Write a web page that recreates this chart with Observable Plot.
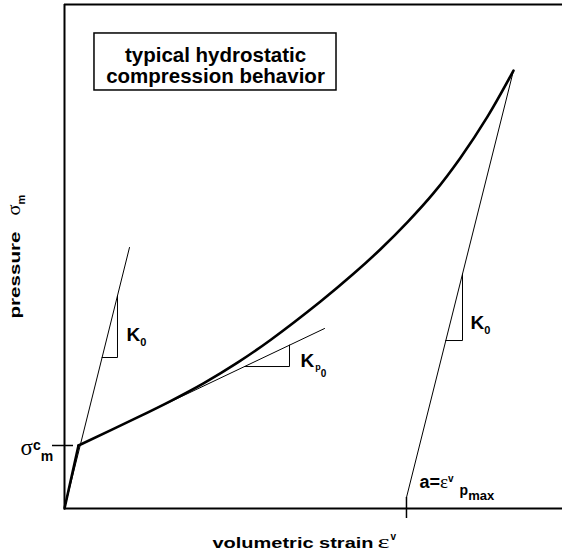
<!DOCTYPE html>
<html>
<head>
<meta charset="utf-8">
<script src="https://cdn.jsdelivr.net/npm/d3@7"></script>
<script src="https://cdn.jsdelivr.net/npm/@observablehq/plot@0.6"></script>
<style>
  html, body { margin: 0; padding: 0; background: #fff; }
  #chart svg { display: block; }
</style>
</head>
<body>
<div id="chart"></div>
<script>
// ---- data (strain x 0..100, pressure y 0..100, arbitrary units) ----
const curveX = [0, 2.81, 14.66, 21.29, 27.91, 34.74, 41.37, 51.41, 58.03, 63.45, 68.88, 74.10, 79.52, 84.94, 90.16];
const curveY = [0, 12.5, 18.07, 21.32, 24.83, 28.93, 33.44, 41.07, 46.56, 51.44, 56.82, 62.56, 69.61, 77.74, 86.88];

const loadK0X = [0, 13.05];
const loadK0Y = [0, 51.79];
const tangentX = [2.81, 52.21];
const tangentY = [12.5, 35.71];
const unloadX = [90.16, 68.67];
const unloadY = [86.9, 2.18];

const triLeftX = [7.55, 10.64, 10.64];
const triLeftY = [29.96, 29.96, 42.2];
const triTanX = [36.16, 45.18, 45.18];
const triTanY = [28.17, 28.17, 32.41];
const triRightX = [76.57, 79.92, 79.92];
const triRightY = [33.33, 33.33, 46.53];

const sigmaCm = 12.5;        // yield pressure σ^c_m
const aStrain = 68.67;       // a = ε^v_pmax

const titleLines = ["typical hydrostatic", "compression behavior"];

const zip = (xs, ys) => xs.map((x, i) => ({x, y: ys[i]}));

// rich labels: segments {t, f:"b"|"g", s:size, b:baseline shift, dx, len}
const richLabels = [
  {x: -8.84, y: 10.71, rotate: 0, segs: [
    {t: "σ", f: "g", s: 23}, {t: "c", f: "b", s: 14, b: -4.5}, {t: "m", f: "b", s: 14, b: 6}]},
  {x: 12.45, y: 33.33, rotate: 0, segs: [
    {t: "K", f: "b", s: 19}, {t: "0", f: "b", s: 11, b: 5}]},
  {x: 47.39, y: 27.98, rotate: 0, segs: [
    {t: "K", f: "b", s: 19}, {t: "p", f: "b", s: 9, b: 3, dx: 1}, {t: "0", f: "b", s: 10, b: 10}]},
  {x: 81.53, y: 35.71, rotate: 0, segs: [
    {t: "K", f: "b", s: 19}, {t: "0", f: "b", s: 11, b: 5}]},
  {x: 71.29, y: 3.97, rotate: 0, segs: [
    {t: "a=", f: "b", s: 18}, {t: "ε", f: "g", s: 19}, {t: "v", f: "b", s: 10, b: -6},
    {t: "p", f: "b", s: 14, b: 7, dx: 6}, {t: "max", f: "b", s: 13, b: 12}]},
  {x: 29.72, y: -7.74, rotate: 0, segs: [
    {t: "volumetric strain", f: "b", s: 15, len: 161}, {t: "ε", f: "g", s: 18, dx: 4, len: 12}, {t: "v", f: "b", s: 10, b: -8, dx: 1}]},
  {x: -8.84, y: 37.7, rotate: -90, segs: [
    {t: "pressure", f: "b", s: 15, len: 87}, {t: "σ", f: "g", s: 18, dx: 16, len: 11}, {t: "m", f: "b", s: 11, b: 5}]}
];
richLabels.forEach(d => d.plain = d.segs.map(s => s.t).join(""));

const titleData = [{x: 30.32, y: 84.33, text: titleLines.join("\n")}];

const thin = {stroke: "black", strokeWidth: 1};

const chart = Plot.plot({
  width: 562,
  height: 557,
  marginLeft: 64,
  marginRight: 0,
  marginTop: 4,
  marginBottom: 49,
  x: {domain: [0, 100], axis: null},
  y: {domain: [0, 100], axis: null},
  style: {background: "white", overflow: "visible"},
  marks: [
    // frame: left, bottom, top
    Plot.ruleX([0], {y1: 0, y2: 100, stroke: "black", strokeWidth: 2}),
    Plot.ruleY([0, 100], {x1: 0, x2: 100, stroke: "black", strokeWidth: 2}),
    // title box
    Plot.rect([0], {x1: 6.02, x2: 54.62, y1: 82.94, y2: 94.25, fill: "white", stroke: "black", strokeWidth: 1.5}),
    Plot.text(titleData, {x: "x", y: "y", text: "text", textAnchor: "middle", lineAnchor: "bottom", lineHeight: 1.04,
      fontSize: 20.5, fontWeight: "bold", fontFamily: "'Liberation Sans', Arial, sans-serif", fill: "black"}),
    // thin construction lines
    Plot.line(zip(loadK0X, loadK0Y), {x: "x", y: "y", ...thin}),
    Plot.line(zip(tangentX, tangentY), {x: "x", y: "y", ...thin}),
    Plot.line(zip(unloadX, unloadY), {x: "x", y: "y", ...thin}),
    Plot.line(zip(triLeftX, triLeftY), {x: "x", y: "y", ...thin}),
    Plot.line(zip(triTanX, triTanY), {x: "x", y: "y", ...thin}),
    Plot.line(zip(triRightX, triRightY), {x: "x", y: "y", ...thin}),
    // ticks
    Plot.ruleY([sigmaCm], {x1: -2.41, x2: 1.81, stroke: "black", strokeWidth: 1.5}),
    Plot.ruleX([aStrain], {y1: -1.98, y2: 2.18, stroke: "black", strokeWidth: 1.5}),
    // main curve
    Plot.line(zip(curveX.slice(0, 2), curveY.slice(0, 2)), {x: "x", y: "y", stroke: "black", strokeWidth: 2.6}),
    Plot.line(zip(curveX.slice(1), curveY.slice(1)), {x: "x", y: "y", stroke: "black", strokeWidth: 2.6, curve: "catmull-rom"}),
    // labels
    Plot.text(richLabels, {x: "x", y: "y", text: "plain", rotate: "rotate", textAnchor: "start", lineAnchor: "bottom",
      className: "rich", fill: "black"})
  ]
});

document.getElementById("chart").appendChild(chart);

// build sub/superscripts and mixed fonts as tspans
const fam = {b: "'Liberation Sans', Arial, sans-serif", g: "'Liberation Serif', 'Times New Roman', serif"};
d3.select(chart).selectAll(".rich text").each(function(_, i) {
  const lab = richLabels[i];
  const el = d3.select(this);
  el.text(null);
  let prev = 0;
  for (const seg of lab.segs) {
    const b = seg.b || 0;
    const ts = el.append("tspan")
      .attr("font-family", fam[seg.f])
      .attr("font-weight", seg.f === "b" ? "bold" : "normal")
      .attr("font-size", seg.s)
      .attr("dy", b - prev)
      .text(seg.t);
    if (seg.dx) ts.attr("dx", seg.dx);
    if (seg.len) ts.attr("textLength", seg.len).attr("lengthAdjust", "spacingAndGlyphs");
    prev = b;
  }
});
</script>
</body>
</html>
